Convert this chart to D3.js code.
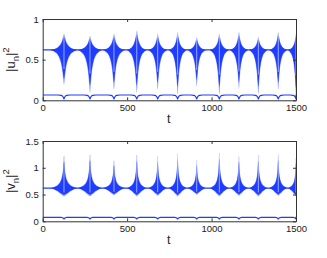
<!DOCTYPE html>
<html>
<head>
<meta charset="utf-8">
<script src="https://cdn.jsdelivr.net/npm/d3@7"></script>
<style>
  html, body { margin: 0; padding: 0; background: #fff; }
  svg { display: block; }
</style>
</head>
<body>
<script>
// burst centres (same in both panels)
var burstT = [126, 280, 422, 557, 681, 799, 912, 1046, 1162, 1277, 1395, 1500];
var burstW = [80, 72, 66, 60, 58, 55, 55, 58, 56, 56, 55, 48];

// |u_n|^2 : baseline, top of envelope, bottom of envelope per burst
var uBase = 0.62;
var uHi = [0.82, 0.79, 0.82, 0.86, 0.82, 0.84, 0.78, 0.82, 0.84, 0.78, 0.84, 0.82];
var uLo = [0.19, 0.09, 0.13, 0.09, 0.13, 0.07, 0.17, 0.07, 0.14, 0.07, 0.13, 0.05];

// |v_n|^2
var vBase = 0.62;
var vHi = [1.29, 1.33, 1.20, 1.31, 1.29, 1.35, 1.21, 1.36, 1.29, 1.31, 1.33, 1.25];
var vLo = [0.47, 0.47, 0.49, 0.47, 0.48, 0.47, 0.50, 0.47, 0.48, 0.47, 0.48, 0.47];

// envelope profile of one burst (offset relative to half width, fraction of amplitude)
var shapeS = [-1, -0.7, -0.45, -0.28, -0.15, -0.07, -0.02, 0, 0.02, 0.07, 0.15, 0.28, 0.45, 0.7, 1];
var uUp    = [0, 0.06, 0.18, 0.35, 0.58, 0.82, 1, 0.8, 1, 0.82, 0.58, 0.35, 0.18, 0.06, 0];
var uDown  = [0, 0.06, 0.16, 0.32, 0.55, 0.8, 0.97, 1, 0.97, 0.8, 0.55, 0.32, 0.16, 0.06, 0];
var vUp    = [0, 0.04, 0.1, 0.19, 0.34, 0.56, 0.9, 0.85, 0.9, 0.56, 0.34, 0.19, 0.1, 0.04, 0];
var vDown  = [0, 0.2, 0.45, 0.7, 0.85, 0.95, 1, 1, 1, 0.95, 0.85, 0.7, 0.45, 0.2, 0];

// the low trace (near zero) with small cusps at each burst
var floorS = [-1, -0.5, -0.25, -0.1, 0, 0.1, 0.25, 0.5, 1];
var floorF = [0, 0.1, 0.28, 0.6, 1, 0.6, 0.28, 0.1, 0];
var uFloor = 0.065, uFloorDip = 0.015;
var vFloor = 0.075, vFloorDip = 0.045;

var xTicks = [0, 500, 1000, 1500];
var uTicks = [0, 0.5, 1];
var vTicks = [0, 0.5, 1, 1.5];

var W = 327, H = 258;
var left = 42.7, right = 296;
var blue = "#1f3dff", light = "#8c9cff";
var font = "Liberation Sans, Arial, sans-serif";

var svg = d3.select("body").append("svg")
    .attr("width", W).attr("height", H);

var x = d3.scaleLinear().domain([0, 1500]).range([left, right]);

function envelope(base, hi, lo, up, down, k) {
  var pts = [{t: 0, hi: base, lo: base}];
  burstT.forEach(function (c, i) {
    shapeS.forEach(function (s, j) {
      pts.push({t: c + s * burstW[i],
                hi: base + k * up[j] * (hi[i] - base),
                lo: base - k * down[j] * (base - lo[i])});
    });
  });
  pts.push({t: 1500, hi: base, lo: base});
  return pts.sort(function (a, b) { return a.t - b.t; });
}

function floorLine(level, dip) {
  var pts = [{t: 0, v: level}];
  burstT.forEach(function (c, i) {
    floorS.forEach(function (s, j) {
      pts.push({t: c + s * 35, v: level - floorF[j] * (level - dip)});
    });
  });
  pts.push({t: 1500, v: level});
  return pts.sort(function (a, b) { return a.t - b.t; });
}

function panel(id, top, bottom, ymax, ticks, base, hi, lo, up, down, fl, fdip, name) {
  var y = d3.scaleLinear().domain([0, ymax]).range([bottom, top]);
  var g = svg.append("g");

  svg.append("clipPath").attr("id", id)
    .append("rect").attr("x", left).attr("y", top)
    .attr("width", right - left).attr("height", bottom - top);

  var plot = g.append("g").attr("clip-path", "url(#" + id + ")");

  var area = d3.area()
      .x(function (d) { return x(d.t); })
      .y0(function (d) { return y(d.lo); })
      .y1(function (d) { return y(d.hi); })
      .curve(d3.curveMonotoneX);

  plot.append("path").datum(envelope(base, hi, lo, up, down, 1))
    .attr("d", area).attr("fill", light);
  plot.append("path").datum(envelope(base, hi, lo, up, down, 0.82))
    .attr("d", area).attr("fill", blue);

  plot.append("line")
    .attr("x1", x(0)).attr("x2", x(1500))
    .attr("y1", y(base)).attr("y2", y(base))
    .attr("stroke", blue).attr("stroke-width", 1.2);

  // pale streak through the middle of every burst
  plot.selectAll("line.mid").data(burstT).enter().append("line")
    .attr("class", "mid")
    .attr("x1", function (d) { return x(d); })
    .attr("x2", function (d) { return x(d); })
    .attr("y1", function (d, i) { return y(base + 0.85 * (hi[i] - base)); })
    .attr("y2", function (d, i) { return y(base - 0.55 * (base - lo[i])); })
    .attr("stroke", "#fff").attr("stroke-opacity", 0.7).attr("stroke-width", 0.8);

  plot.append("path").datum(floorLine(fl, fdip))
    .attr("d", d3.line()
      .x(function (d) { return x(d.t); })
      .y(function (d) { return y(d.v); })
      .curve(d3.curveMonotoneX))
    .attr("fill", "none").attr("stroke", blue).attr("stroke-width", 1.2);

  // axes, MATLAB style: box with ticks pointing in
  var fmt = function (d) { return String(d); };
  var ax = [
    [d3.axisBottom(x).tickValues(xTicks).tickFormat(fmt).tickSizeInner(-3).tickSizeOuter(0).tickPadding(4), 0, bottom],
    [d3.axisTop(x).tickValues(xTicks).tickSizeInner(-3).tickSizeOuter(0).tickFormat(""), 0, top],
    [d3.axisLeft(y).tickValues(ticks).tickFormat(fmt).tickSizeInner(-3).tickSizeOuter(0).tickPadding(4), left, 0],
    [d3.axisRight(y).tickValues(ticks).tickSizeInner(-3).tickSizeOuter(0).tickFormat(""), right, 0]
  ];
  ax.forEach(function (a) {
    var ag = g.append("g").attr("transform", "translate(" + a[1] + "," + a[2] + ")").call(a[0]);
    ag.selectAll("path,line").attr("stroke", "#333").attr("stroke-width", 1);
    ag.selectAll("text").attr("font-family", font)
      .attr("font-size", 9.5).attr("fill", "#222");
  });

  g.append("text")
    .attr("x", (left + right) / 2 - 0.5).attr("y", bottom + 23)
    .attr("text-anchor", "middle")
    .attr("font-family", font)
    .attr("font-size", 12.5).attr("fill", "#222")
    .text("t");

  var yl = g.append("text")
    .attr("transform", "translate(15," + ((top + bottom) / 2) + ") rotate(-90)")
    .attr("text-anchor", "middle")
    .attr("font-family", font)
    .attr("font-size", 13).attr("fill", "#222");
  yl.append("tspan").text("|" + name);
  yl.append("tspan").attr("dy", 4).attr("font-size", 9.5).text("n");
  yl.append("tspan").attr("dy", -4).text("|");
  yl.append("tspan").attr("dy", -6).attr("font-size", 9.5).text("2");
}

panel("clipU", 19, 100.3, 1, uTicks, uBase, uHi, uLo, uUp, uDown, uFloor, uFloorDip, "u");
panel("clipV", 141, 221.3, 1.5, vTicks, vBase, vHi, vLo, vUp, vDown, vFloor, vFloorDip, "v");
</script>
</body>
</html>
